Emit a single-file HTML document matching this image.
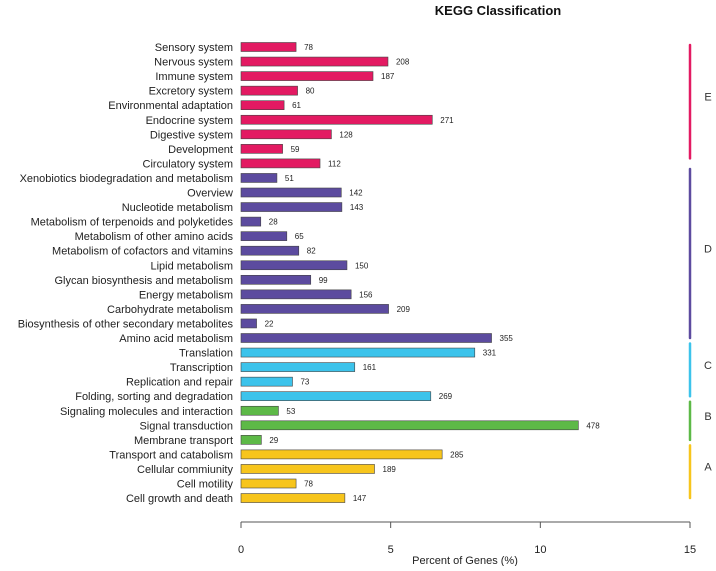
<!DOCTYPE html>
<html><head><meta charset="utf-8"><style>
body{margin:0;background:#fff;}
svg text{font-family:"Liberation Sans",sans-serif;}
</style></head><body>
<svg width="716" height="566" viewBox="0 0 716 566" id="chart"></svg>
<script>
const categories=["Sensory system","Nervous system","Immune system","Excretory system","Environmental adaptation","Endocrine system","Digestive system","Development","Circulatory system","Xenobiotics biodegradation and metabolism","Overview","Nucleotide metabolism","Metabolism of terpenoids and polyketides","Metabolism of other amino acids","Metabolism of cofactors and vitamins","Lipid metabolism","Glycan biosynthesis and metabolism","Energy metabolism","Carbohydrate metabolism","Biosynthesis of other secondary metabolites","Amino acid metabolism","Translation","Transcription","Replication and repair","Folding, sorting and degradation","Signaling molecules and interaction","Signal transduction","Membrane transport","Transport and catabolism","Cellular commiunity","Cell motility","Cell growth and death"];
const counts=[78,208,187,80,61,271,128,59,112,51,142,143,28,65,82,150,99,156,209,22,355,331,161,73,269,53,478,29,285,189,78,147];
const percents=[1.84,4.91,4.41,1.89,1.44,6.39,3.02,1.39,2.64,1.20,3.35,3.37,0.66,1.53,1.93,3.54,2.33,3.68,4.93,0.52,8.37,7.81,3.80,1.72,6.34,1.25,11.27,0.68,6.72,4.46,1.84,3.47];
const groups=["E","E","E","E","E","E","E","E","E","D","D","D","D","D","D","D","D","D","D","D","D","C","C","C","C","B","B","B","A","A","A","A"];
const groupNames=["E","D","C","B","A"];
const xTicks=[0,5,10,15];
const colors={E:"#e31a62",D:"#5c4b9f",C:"#3cc3eb",B:"#5db947",A:"#f7c51c"};
const svg=document.getElementById('chart');
const NS="http://www.w3.org/2000/svg";
const x=v=>241+v*(449/15);
const y=i=>47+i*14.55;
function mk(tag,attrs,txt){const e=document.createElementNS(NS,tag);for(const k in attrs)e.setAttribute(k,attrs[k]);if(txt!==undefined)e.textContent=txt;svg.appendChild(e);return e;}
let t=mk('text',{x:498,y:15,'text-anchor':'middle','font-size':13,'font-weight':'bold',fill:'#111'},'KEGG Classification');


categories.forEach((c,i)=>{
  const yc=y(i);
  const l=mk('text',{x:233,y:yc+4,'text-anchor':'end','font-size':11,fill:'#222'},c);
  
  
  const r=mk('rect',{x:x(0),y:yc-4.5,width:x(percents[i])-x(0),height:9,fill:colors[groups[i]],stroke:'#444','stroke-width':0.6});
  
  
  const v=mk('text',{x:x(percents[i])+8,y:yc+3,'font-size':8,fill:'#222'},String(counts[i]));
  
  
});
groupNames.forEach((g,gi)=>{
  const idx=groups.map((v,i)=>v===g?i:-1).filter(i=>i>=0);
  const a=y(idx[0])-(idx[0]===0?2:9),b=y(idx[idx.length-1])-(gi===0?5:0);
  const ln=mk('line',{x1:690,x2:690,y1:a,y2:b,stroke:colors[g],'stroke-width':2.5,'stroke-linecap':'round'});
  
  
  const gt=mk('text',{x:708,y:(a+b)/2-1,'text-anchor':'middle','font-size':11,fill:'#333'},g);
  
  
});
const ax=mk('line',{x1:x(0),x2:x(15),y1:522,y2:522,stroke:'#555','stroke-width':1});


xTicks.forEach(v=>{
  const tk=mk('line',{x1:x(v),x2:x(v),y1:522,y2:528,stroke:'#555','stroke-width':1});
  
  
  const tl=mk('text',{x:x(v),y:553,'text-anchor':'middle','font-size':11,fill:'#222'},String(v));
  
  
});
const at=mk('text',{x:465,y:564,'text-anchor':'middle','font-size':11,fill:'#222'},'Percent of Genes (%)');


</script>
</body></html>
